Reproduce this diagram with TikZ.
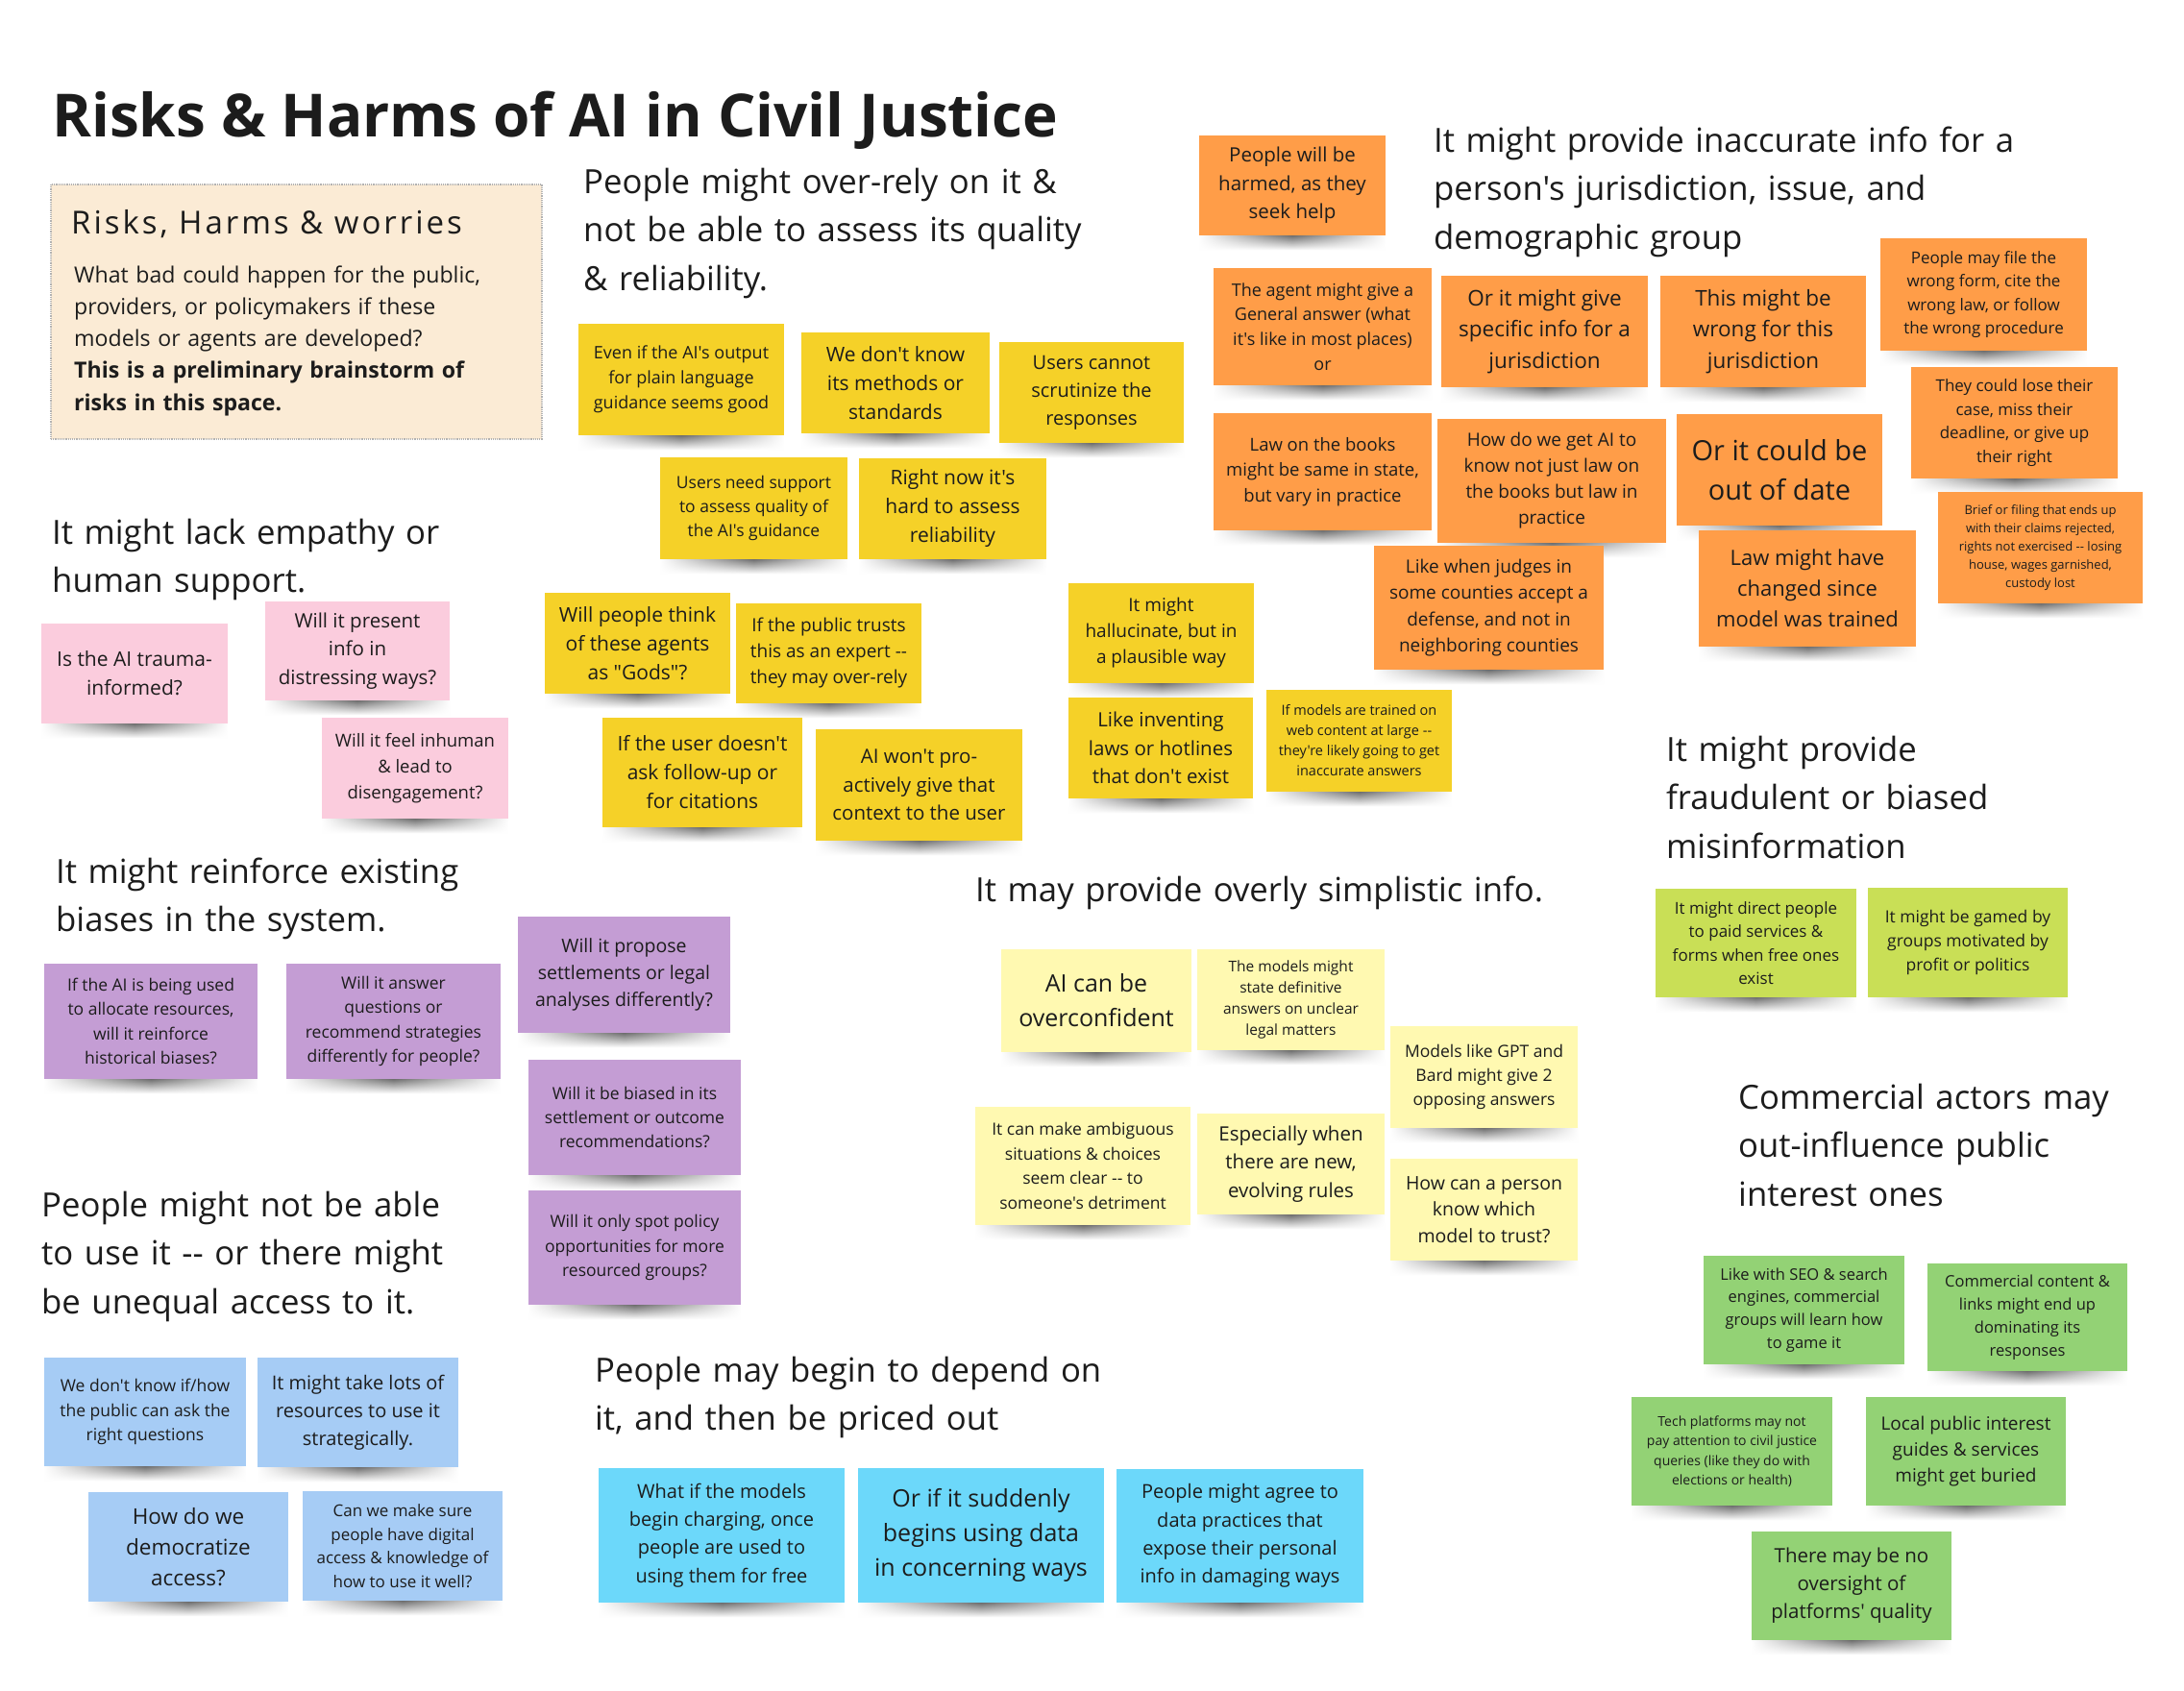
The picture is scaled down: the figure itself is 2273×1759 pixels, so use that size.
\documentclass[tikz,border=0pt]{standalone}
\usepackage{fontspec}
\setmainfont{Open Sans}[Ligatures=TeXOff]
\usetikzlibrary{backgrounds,fadings}
\definecolor{ink}{HTML}{1C1C1C}
\definecolor{noteY}{HTML}{F5D128}
\definecolor{noteO}{HTML}{FF9D48}
\definecolor{noteP}{HTML}{FBCCDD}
\definecolor{noteV}{HTML}{C49DD4}
\definecolor{noteB}{HTML}{A6CCF5}
\definecolor{noteC}{HTML}{6CD8FA}
\definecolor{noteL}{HTML}{FFF9B1}
\definecolor{noteG}{HTML}{C9DF56}
\definecolor{noteD}{HTML}{93D275}
\definecolor{introfill}{HTML}{FBEBD5}
\tikzfading[name=sidefade, left color=transparent!100, right color=transparent!100, middle color=transparent!0]
\newcommand\sticky[9]{%
  \pgfmathsetmacro\scx{(#2+#4)/2}\pgfmathsetmacro\scy{(#3+#5)/2}%
  \pgfmathsetmacro\sww{#4-#2}\pgfmathsetmacro\shh{#5-#3}%
  \node[note, fill=#6, minimum width=\sww pt, minimum height=\shh pt,
        font=\fontsize{#7}{#8}\selectfont] (#1) at (\scx,\scy) {#9};}
\begin{document}
\begin{tikzpicture}[x=1pt,y=-1pt,
  note/.style={rectangle, inner sep=0pt, align=center, text=ink},
  heading/.style={anchor=base west, inner sep=0pt, align=left, text width=700pt,
        text=ink, font=\fontsize{34.7}{50.5}\selectfont}]
\useasboundingbox (0,0) rectangle (2273,1759);

% title
\node[anchor=base west, inner sep=0pt, text=ink, font=\bfseries\fontsize{62}{70}\selectfont] (title) at (54,142) {Risks \& Harms of AI in Civil Justice};

% intro box
\node[draw=black!30, densely dotted, line width=1.2pt, fill=introfill, minimum width=511pt, minimum height=265pt, inner sep=0pt] (intro) at (308.5,324.5) {};
\node[anchor=base west, inner sep=0pt, text=ink, font=\fontsize{33}{40}\selectfont\addfontfeature{LetterSpace=9}] (introhead) at (74,243) {Risks, Harms \& worries};
\node[anchor=base west, inner sep=0pt, align=left, text width=480pt, text=ink, font=\fontsize{23.1}{33.3}\selectfont] (introtext) at (77,294) {What bad could happen for the public,\\providers, or policymakers if these\\models or agents are developed?\\\textbf{This is a preliminary brainstorm of}\\\textbf{risks in this space.}};

% headings
\node[heading] (h1) at (607,201) {People might over-rely on it \&\\not be able to assess its quality\\\& reliability.};
\node[heading] (h2) at (1492,158) {It might provide inaccurate info for a\\person's jurisdiction, issue, and\\demographic group};
\node[heading] (h3) at (54,566) {It might lack empathy or\\human support.};
\node[heading] (h4) at (58,919) {It might reinforce existing\\biases in the system.};
\node[heading] (h5) at (43,1266) {People might not be able\\to use it -- or there might\\be unequal access to it.};
\node[heading] (h6) at (619,1438) {People may begin to depend on\\it, and then be priced out};
\node[heading] (h7) at (1015,938) {It may provide overly simplistic info.};
\node[heading] (h8) at (1734,792) {It might provide\\fraudulent or biased\\misinformation};
\node[heading] (h9) at (1809,1154) {Commercial actors may\\out-influence public\\interest ones};

% yellow
\sticky{y1}{602}{337}{816}{453}{noteY}{18}{26}{Even if the AI's output\\for plain language\\guidance seems good}
\sticky{y2}{834}{346}{1030}{451}{noteY}{21}{30}{We don't know\\its methods or\\standards}
\sticky{y3}{1040}{356}{1232}{461}{noteY}{20}{29}{Users cannot\\scrutinize the\\responses}
\sticky{y4}{687}{476}{882}{582}{noteY}{17.5}{25}{Users need support\\to assess quality of\\the AI's guidance}
\sticky{y5}{894}{477}{1089}{582}{noteY}{21}{30}{Right now it's\\hard to assess\\reliability}
\sticky{y6}{567}{617}{760}{722}{noteY}{21}{30}{Will people think\\of these agents\\as "Gods"?}
\sticky{y7}{766}{628}{959}{732}{noteY}{19}{27}{If the public trusts\\this as an expert --\\they may over-rely}
\sticky{y8}{627}{747}{835}{861}{noteY}{21}{30}{If the user doesn't\\ask follow-up or\\for citations}
\sticky{y9}{849}{759}{1064}{875}{noteY}{20.5}{29.5}{AI won't pro-\\actively give that\\context to the user}
\sticky{y10}{1112}{607}{1305}{711}{noteY}{19}{27}{It might\\hallucinate, but in\\a plausible way}
\sticky{y11}{1112}{726}{1304}{831}{noteY}{20.5}{29.5}{Like inventing\\laws or hotlines\\that don't exist}
\sticky{y12}{1318}{718}{1511}{824}{noteY}{14.5}{21}{If models are trained on\\web content at large --\\they're likely going to get\\inaccurate answers}

% orange
\sticky{o1}{1248}{141}{1442}{245}{noteO}{20.5}{29.5}{People will be\\harmed, as they\\seek help}
\sticky{o2}{1263}{279}{1490}{401}{noteO}{18}{25.7}{The agent might give a\\General answer (what\\it's like in most places)\\or}
\sticky{o3}{1500}{287}{1715}{403}{noteO}{22.5}{32.5}{Or it might give\\specific info for a\\jurisdiction}
\sticky{o4}{1728}{287}{1942}{403}{noteO}{22.5}{32.5}{This might be\\wrong for this\\jurisdiction}
\sticky{o5}{1957}{248}{2172}{365}{noteO}{17}{24.5}{People may file the\\wrong form, cite the\\wrong law, or follow\\the wrong procedure}
\sticky{o6}{1989}{382}{2204}{498}{noteO}{17}{24.8}{They could lose their\\case, miss their\\deadline, or give up\\their right}
\sticky{o7}{2017}{512}{2230}{628}{noteO}{13}{19}{Brief or filing that ends up\\with their claims rejected,\\rights not exercised -- losing\\house, wages garnished,\\custody lost}
\sticky{o8}{1263}{430}{1490}{552}{noteO}{18.5}{26.3}{Law on the books\\might be same in state,\\but vary in practice}
\sticky{o9}{1496}{436}{1734}{565}{noteO}{19}{27}{How do we get AI to\\know not just law on\\the books but law in\\practice}
\sticky{o10}{1745}{431}{1959}{547}{noteO}{29}{41.7}{Or it could be\\out of date}
\sticky{o11}{1768}{552}{1994}{673}{noteO}{22}{32}{Law might have\\changed since\\model was trained}
\sticky{o12}{1430}{568}{1669}{697}{noteO}{19}{27.5}{Like when judges in\\some counties accept a\\defense, and not in\\neighboring counties}

% pink
\sticky{p1}{43}{649}{237}{753}{noteP}{21}{30}{Is the AI trauma-\\informed?}
\sticky{p2}{276}{626}{468}{729}{noteP}{20.5}{29.5}{Will it present\\info in\\distressing ways?}
\sticky{p3}{335}{747}{529}{852}{noteP}{18.5}{26.7}{Will it feel inhuman\\\& lead to\\disengagement?}

% violet
\sticky{v1}{46}{1003}{268}{1123}{noteV}{17.5}{25.2}{If the AI is being used\\to allocate resources,\\will it reinforce\\historical biases?}
\sticky{v2}{298}{1003}{521}{1123}{noteV}{17.5}{25.2}{Will it answer\\questions or\\recommend strategies\\differently for people?}
\sticky{v3}{539}{954}{760}{1075}{noteV}{19.5}{28.3}{Will it propose\\settlements or legal\\analyses differently?}
\sticky{v4}{550}{1103}{771}{1223}{noteV}{17.5}{25.3}{Will it be biased in its\\settlement or outcome\\recommendations?}
\sticky{v5}{550}{1239}{771}{1358}{noteV}{17.5}{25.5}{Will it only spot policy\\opportunities for more\\resourced groups?}

% light blue
\sticky{b1}{46}{1413}{256}{1526}{noteB}{17.5}{25.3}{We don't know if/how\\the public can ask the\\right questions}
\sticky{b2}{268}{1413}{477}{1527}{noteB}{20}{29}{It might take lots of\\resources to use it\\strategically.}
\sticky{b3}{92}{1553}{300}{1667}{noteB}{22.5}{32}{How do we\\democratize\\access?}
\sticky{b4}{315}{1552}{523}{1666}{noteB}{17}{24.5}{Can we make sure\\people have digital\\access \& knowledge of\\how to use it well?}

% cyan
\sticky{c1}{623}{1528}{879}{1668}{noteC}{20}{29.2}{What if the models\\begin charging, once\\people are used to\\using them for free}
\sticky{c2}{893}{1528}{1149}{1668}{noteC}{25}{36}{Or if it suddenly\\begins using data\\in concerning ways}
\sticky{c3}{1162}{1529}{1419}{1668}{noteC}{20}{29.2}{People might agree to\\data practices that\\expose their personal\\info in damaging ways}

% light yellow
\sticky{l1}{1042}{988}{1240}{1095}{noteL}{25}{36}{AI can be\\overconfident}
\sticky{l2}{1246}{988}{1441}{1093}{noteL}{15.5}{22.3}{The models might\\state definitive\\answers on unclear\\legal matters}
\sticky{l3}{1447}{1068}{1642}{1174}{noteL}{17.5}{25.3}{Models like GPT and\\Bard might give 2\\opposing answers}
\sticky{l4}{1015}{1152}{1239}{1275}{noteL}{17.5}{25.8}{It can make ambiguous\\situations \& choices\\seem clear -- to\\someone's detriment}
\sticky{l5}{1246}{1159}{1441}{1264}{noteL}{20.5}{29.5}{Especially when\\there are new,\\evolving rules}
\sticky{l6}{1447}{1206}{1642}{1312}{noteL}{19.5}{27.5}{How can a person\\know which\\model to trust?}

% lime
\sticky{g1}{1723}{925}{1932}{1038}{noteG}{17}{24.5}{It might direct people\\to paid services \&\\forms when free ones\\exist}
\sticky{g2}{1944}{924}{2152}{1038}{noteG}{17.5}{24.7}{It might be gamed by\\groups motivated by\\profit or politics}

% green
\sticky{d1}{1773}{1307}{1982}{1420}{noteD}{16.5}{23.7}{Like with SEO \& search\\engines, commercial\\groups will learn how\\to game it}
\sticky{d2}{2006}{1315}{2214}{1427}{noteD}{16.5}{23.8}{Commercial content \&\\links might end up\\dominating its\\responses}
\sticky{d3}{1698}{1454}{1907}{1567}{noteD}{14}{20.5}{Tech platforms may not\\pay attention to civil justice\\queries (like they do with\\elections or health)}
\sticky{d4}{1942}{1454}{2150}{1567}{noteD}{19}{27}{Local public interest\\guides \& services\\might get buried}
\sticky{d5}{1823}{1594}{2031}{1707}{noteD}{20.5}{29}{There may be no\\oversight of\\platforms' quality}

% background + shadows
\begin{scope}[on background layer]
  \fill[white] (0,0) rectangle (2273,1759);
  \foreach \n in {y1,y2,y3,y4,y5,y6,y7,y8,y9,y10,y11,y12,o1,o2,o3,o4,o5,o6,o7,o8,o9,o10,o11,o12,p1,p2,p3,v1,v2,v3,v4,v5,b1,b2,b3,b4,c1,c2,c3,l1,l2,l3,l4,l5,l6,g1,g2,d1,d2,d3,d4,d5}{
    \shade[top color=black!60, bottom color=white, path fading=sidefade, fit fading=true] ([xshift=0pt,yshift=1pt]\n.south west) rectangle ([xshift=0pt,yshift=-15pt]\n.south east);
  }
\end{scope}
\end{tikzpicture}
\end{document}
